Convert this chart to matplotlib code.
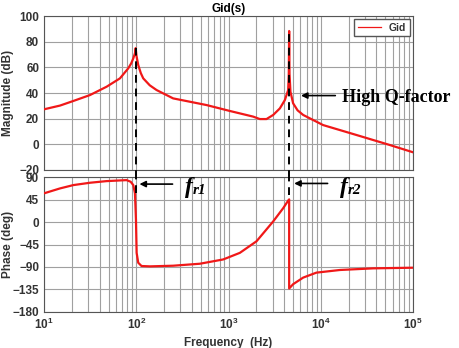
import matplotlib
matplotlib.use("Agg")
import matplotlib.pyplot as plt
import numpy as np

plt.rcParams['font.family'] = ['Liberation Sans', 'DejaVu Sans']

# ---- Bode data of Gid(s) ----
freq_mag = [10, 14.9, 20.8, 31.5, 47.7, 66.5, 81.8, 88, 92.8, 96.8, 98.5, 100.5, 105,
            112, 119, 140, 166, 251, 578, 1033, 1849, 2183, 2580, 3048, 3600, 4078,
            4430, 4500, 4540, 4580, 4690, 5010, 5600, 6440, 10600, 24300, 55800, 100000]
mag_db = [27.3, 30.2, 33.8, 38.4, 44.9, 51.4, 59.2, 63, 67, 71, 75, 69, 61.8,
          55.5, 51.4, 46, 42.3, 35.8, 30.6, 26, 21.6, 19.7, 19.7, 22.9, 28, 34.5,
          42.3, 55, 88.3, 55, 41, 32, 26.5, 22.9, 15, 7.3, -0.5, -6.2]

freq_ph = [10, 14.9, 20.8, 31.5, 47.7, 78.5, 86.9, 92.8, 96.8, 99.2, 100.9, 105, 114,
           141, 251, 489, 875, 1327, 2011, 3048, 3910, 4430, 4540, 4541, 5010, 6440,
           8970, 16100, 36900, 100000]
phase_deg = [58.1, 68, 74.7, 79.4, 82.7, 84.7, 81.4, 74.7, 58, 5, -61.6, -81.5, -88.1,
             -88.8, -87.5, -83.5, -74.9, -61.6, -38.3, 1.6, 28.2, 43.5, 46, -133.3,
             -124.7, -111.4, -101.4, -96.1, -92.8, -91.5]

fr1, fr1_peak = 98.5, 75
fr2, fr2_peak = 4540, 88.3

red = '#f01818'
tick_color = '#333333'

fig = plt.figure(figsize=(4.59, 3.48), dpi=100)
ax1 = fig.add_axes([0.0959, 0.5115, 0.804, 0.4425])
ax2 = fig.add_axes([0.0959, 0.1043, 0.804, 0.3857])

for ax in (ax1, ax2):
    ax.set_xscale('log')
    ax.set_xlim(10, 1e5)
    ax.grid(True, which='both', color='#a0a0a0', linewidth=0.8)
    ax.tick_params(which='both', direction='in', length=0, labelsize=8.5,
                   colors=tick_color)
    for s in ax.spines.values():
        s.set_color('#555555')
        s.set_linewidth(0.8)

# magnitude
ax1.plot(freq_mag, mag_db, color=red, lw=1.6, label='Gid', zorder=3)
ax1.set_ylim(-20, 100)
ax1.set_yticks(np.arange(-20, 101, 20))
ax1.set_xticklabels([])
ax1.set_ylabel('Magnitude (dB)', fontsize=8.5, fontweight='bold', color=tick_color)
ax1.set_title('Gid(s)', fontsize=8.5, fontweight='bold', pad=3)
leg = ax1.legend(loc='upper right', fontsize=7.5, handlelength=2.2, fancybox=False,
                 borderpad=0.35, framealpha=1, edgecolor='#555555',
                 borderaxespad=0.3)
for t in leg.get_texts():
    t.set_fontweight('bold')
    t.set_color(tick_color)
for h in leg.get_lines():
    h.set_linewidth(0.9)

# phase
ax2.plot(freq_ph, phase_deg, color=red, lw=1.6, zorder=3)
ax2.set_ylim(-180, 90)
ax2.set_yticks(np.arange(-180, 91, 45))
ax2.set_ylabel('Phase (deg)', fontsize=8.5, fontweight='bold', color=tick_color)
ax2.set_xlabel('Frequency  (Hz)', fontsize=8.5, fontweight='bold', color=tick_color,
               labelpad=4)
for lbl in ax1.get_yticklabels() + ax2.get_yticklabels() + ax2.get_xticklabels():
    lbl.set_fontweight('bold')
ax1.yaxis.set_label_coords(-0.08, 0.5)
ax2.yaxis.set_label_coords(-0.08, 0.5)

# dashed markers at the two resonances, running across both panels
for f, pk, bottom in ((fr1, fr1_peak, 58), (fr2, fr2_peak, 55)):
    ax1.vlines(f, -26, pk, colors='black', linestyles=(0, (4, 3)), lw=1.4,
               clip_on=False, zorder=4)
    ax2.vlines(f, bottom, 90, colors='black', linestyles=(0, (4, 3)), lw=1.4,
               zorder=4)

arrow = dict(arrowstyle='-|>', color='black', lw=1.2, mutation_scale=9)
ax1.annotate('', xy=(5690, 38), xytext=(15400, 38), arrowprops=arrow)
ax1.text(17000, 36.5, 'High Q-factor', family='Liberation Serif', fontweight='bold',
         fontsize=13, va='center', ha='left')

ax2.annotate('', xy=(101, 76.7), xytext=(265, 76.7), arrowprops=arrow)
ax2.annotate('', xy=(4800, 78), xytext=(12700, 78), arrowprops=arrow)
for fx, sub in ((340, 'r1'), (16200, 'r2')):
    t = ax2.text(fx, 70, 'f', family='Liberation Serif', fontstyle='italic',
                 fontweight='bold', fontsize=17, va='center', ha='left')
    ax2.annotate(sub, xy=(1, 0), xycoords=t, xytext=(0, 0.5), textcoords='offset points',
                 family='Liberation Serif', fontstyle='italic', fontweight='bold',
                 fontsize=11, va='bottom', ha='left')

fig.savefig('out.png', dpi=100)
